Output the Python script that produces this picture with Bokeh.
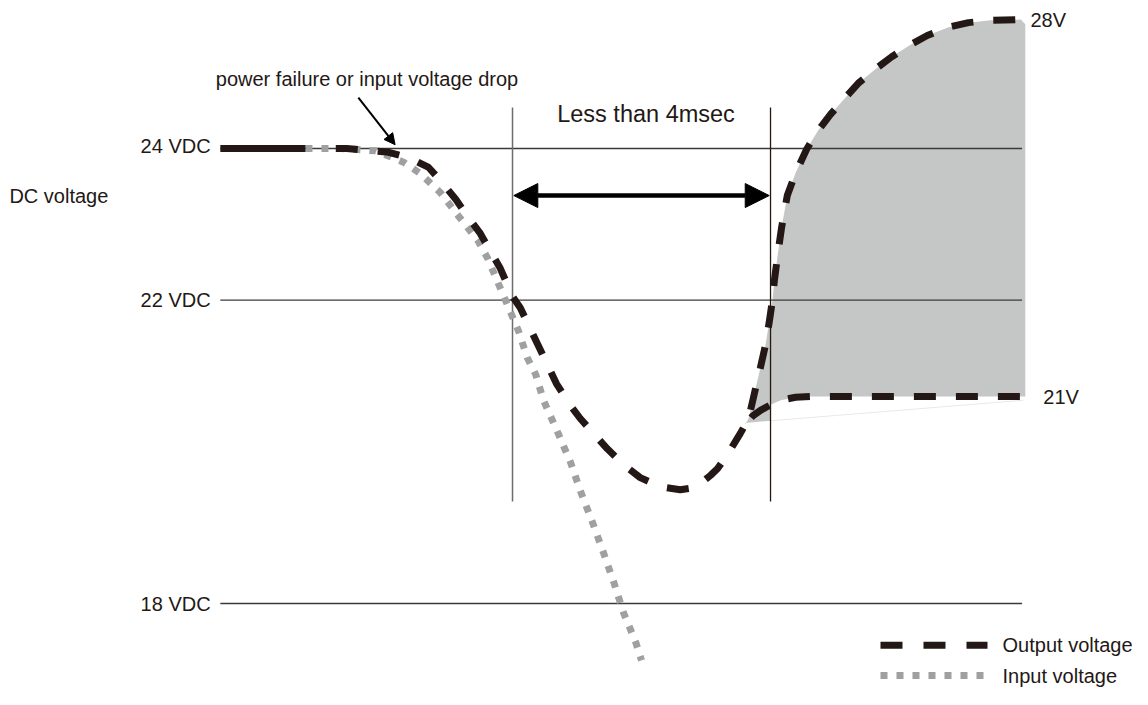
from bokeh.plotting import figure
from bokeh.models import Range1d, Arrow, NormalHead
from bokeh.core.properties import value
from bokeh.embed import file_html
from bokeh.resources import INLINE

# ---- data (time in ms, voltage in V; schematic) ----
level_v = [24, 22, 18]
level_labels = ["24 VDC", "22 VDC", "18 VDC"]

pre_t = [-4.53, -3.21]
pre_v = [24.0, 24.0]

out_t = [-2.74, -2.57, -1.92, -1.58, -1.30, -1.12, -0.88, -0.65, -0.50, -0.34, -0.19,
         0.00, 0.12, 0.39, 0.68, 0.90, 1.05, 1.47, 1.75, 1.98, 2.29, 2.60, 2.84, 3.07,
         3.18, 3.35, 3.53, 3.66, 3.75, 3.84, 3.92, 3.98, 4.03, 4.06, 4.11, 4.17, 4.26,
         4.39, 4.56, 4.74, 4.93, 5.16, 5.36, 5.63, 5.88, 6.17, 6.43, 6.76, 7.07, 7.41, 7.88]
out_v = [24.00, 24.00, 23.95, 23.87, 23.75, 23.58, 23.33, 23.05, 22.88, 22.64, 22.42,
         22.05, 21.90, 21.42, 20.90, 20.61, 20.44, 20.04, 19.81, 19.66, 19.54, 19.50, 19.53, 19.69,
         19.78, 19.99, 20.24, 20.44, 20.77, 21.10, 21.40, 21.71, 22.00, 22.26, 22.59, 22.95, 23.38,
         23.68, 23.99, 24.24, 24.45, 24.67, 24.86, 25.05, 25.21, 25.37, 25.49, 25.60, 25.66, 25.69, 25.70]

low_t = [3.61, 3.72, 3.85, 4.00, 4.16, 4.39, 4.62, 7.92]
low_v = [20.36, 20.47, 20.55, 20.62, 20.68, 20.72, 20.73, 20.73]

in_t = [-3.21, -2.67, -2.12, -1.69, -1.43, -1.12, -0.81, -0.54, -0.39, -0.22, -0.06,
        0.09, 0.23, 0.36, 0.48, 0.71, 0.90, 1.05, 1.24, 1.41, 1.57, 1.72, 1.91, 2.00]
in_v = [24.00, 24.00, 23.97, 23.82, 23.67, 23.42, 23.08, 22.79, 22.56, 22.22, 21.90,
        21.60, 21.24, 21.02, 20.68, 20.24, 19.86, 19.49, 19.07, 18.67, 18.28, 17.88, 17.49, 17.25]

hold_limit_ms = 4.0
upper_label = "28V"
lower_label = "21V"

DARK = "#231815"
GRAY = "#9fa0a0"
FILL = "#c5c6c6"
FONT = value("Liberation Sans")

p = figure(width=1132, height=689, x_range=Range1d(-7.938, 9.612), y_range=Range1d(16.866, 25.952),
           output_backend="svg", toolbar_location=None, min_border=0,
           x_axis_location=None, y_axis_location=None)
p.grid.visible = False
p.outline_line_color = None
p.background_fill_color = "white"
p.border_fill_color = "white"

t_left, t_right = -4.53, 7.90

# shaded variation band between 21V and 28V branches
i0 = out_t.index(3.66)
fill_t = [low_t[0]] + out_t[i0:] + [7.95, 7.95] + low_t[-2::-1][:-3] + [hold_limit_ms, low_t[0]]
fill_v = [low_v[0]] + out_v[i0:] + [25.64, low_v[-1]] + low_v[-2::-1][:-3] + [20.41, 20.38]
p.patch(fill_t, fill_v, fill_color=FILL, line_color=None)
p.line([hold_limit_ms, 7.92], [20.41, 20.68], line_color="#e8e8e8", line_width=1)

# reference levels
for v in level_v:
    p.line([t_left, t_right], [v, v], line_color="#3e3a39", line_width=1.3)

# vertical markers
p.line([0, 0], [24.54, 19.345], line_color="#6f6b6a", line_width=1.5)
p.line([hold_limit_ms, hold_limit_ms], [24.54, 19.345], line_color=DARK, line_width=1.3)

# input voltage
p.line(in_t, in_v, line_color=GRAY, line_width=7, line_dash="7 9")

# output voltage
p.line(pre_t, pre_v, line_color=DARK, line_width=7)
p.line(out_t, out_v, line_color=DARK, line_width=7, line_dash="22 20")
p.line(low_t, low_v, line_color=DARK, line_width=7, line_dash="22 20", line_dash_offset=33)

# double arrow
p.add_layout(Arrow(start=NormalHead(size=24, fill_color="black", line_color="black"),
                   end=NormalHead(size=24, fill_color="black", line_color="black"),
                   x_start=0.02, y_start=23.38, x_end=hold_limit_ms - 0.02, y_end=23.38,
                   line_width=4.5, line_color="black"))
# annotation arrow
p.add_layout(Arrow(end=NormalHead(size=11, fill_color="black", line_color="black"),
                   x_start=-2.39, y_start=24.67, x_end=-1.82, y_end=24.05,
                   line_width=2, line_color="black"))

# legend
p.line([5.705, 7.364], [17.45, 17.45], line_color=DARK, line_width=7, line_dash="22 21")
p.line([5.705, 7.318], [17.05, 17.05], line_color=GRAY, line_width=7, line_dash="7 9")

# texts
p.text(x=[-4.68] * 3, y=[24.03, 22.0, 18.0], text=level_labels, text_font=FONT,
       text_font_size="20px", text_align="right", text_baseline="middle", text_color=DARK)
p.text(x=[-7.80, -4.60, 8.03, 8.23, 7.597, 7.597],
       y=[23.38, 24.92, 25.69, 20.72, 17.45, 17.05],
       text=["DC voltage", "power failure or input voltage drop", upper_label, lower_label,
             "Output voltage", "Input voltage"],
       text_font=FONT, text_font_size="20px", text_align="left", text_baseline="middle",
       text_color=DARK)
p.text(x=[2.07], y=[24.46], text=["Less than 4msec"], text_font=FONT, text_font_size="23.5px",
       text_align="center", text_baseline="middle", text_color=DARK)

open("out.html", "w").write(file_html(p, INLINE))
